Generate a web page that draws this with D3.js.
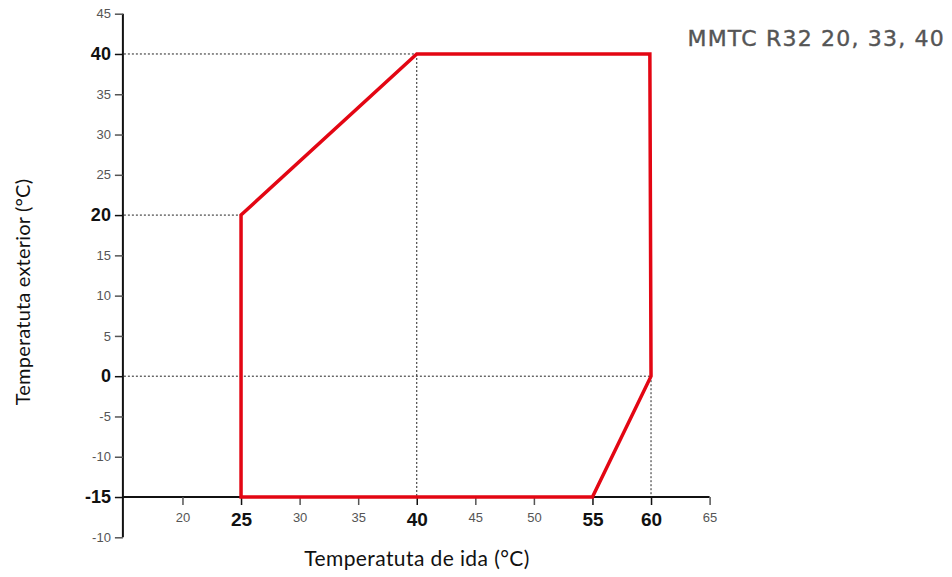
<!DOCTYPE html>
<html>
<head>
<meta charset="utf-8">
<script src="https://cdn.jsdelivr.net/npm/d3@7"></script>
<style>
  body { margin: 0; background: #fff; }
  svg { display: block; }
</style>
</head>
<body>
<div id="chart"></div>
<script>
"use strict";

// operating envelope: [flow temperature, outdoor temperature]
const envelope = [[25, -15], [25, 20], [40, 40], [59.9, 40], [60, 0], [55, -15]];

// dotted guide lines [x1, y1, x2, y2] in data units
const guides = [
    [15, 40, 40, 40],
    [15, 20, 25, 20],
    [15, 0, 60, 0],
    [40, 40, 40, -15],
    [60, 0, 60, -15]
];

const xTicks = [20, 25, 30, 35, 40, 45, 50, 55, 60, 65];
const xBold = [25, 40, 55, 60];
const yTicks = [45, 40, 35, 30, 25, 20, 15, 10, 5, 0, -5, -10, -15, -20];
const yTickLabels = ["45", "40", "35", "30", "25", "20", "15", "10", "5", "0", "-5", "-10", "-15", "-10"];
const yBold = [40, 20, 0, -15];

const title = "MMTC R32 20, 33, 40";
const xTitle = "Temperatuta de ida (°C)";
const yTitle = "Temperatuta exterior (°C)";

const width = 952;
const height = 577;

const xScale = d3.scaleLinear().domain([15, 65]).range([123.9, 709.6]);
const yScale = d3.scaleLinear().domain([45, -20]).range([13.7, 537.3]);

const svg = d3.select("#chart").append("svg")
              .attr("width", width)
              .attr("height", height);

// guides
svg.append("g")
   .selectAll("line")
   .data(guides)
   .join("line")
   .attr("x1", d => xScale(d[0]))
   .attr("y1", d => yScale(d[1]))
   .attr("x2", d => xScale(d[2]))
   .attr("y2", d => yScale(d[3]))
   .attr("stroke", "#222")
   .attr("stroke-width", 1)
   .attr("stroke-dasharray", "2,2");

// y axis
const yAxis = svg.append("g")
                 .attr("transform", `translate(${xScale(15) - 1}, 0)`)
                 .call(d3.axisLeft(yScale)
                         .tickValues(yTicks)
                         .tickSize(8)
                         .tickPadding(4)
                         .tickFormat((d, i) => yTickLabels[i]));
yAxis.select(".domain")
     .attr("d", `M0,${yScale(45)}V${yScale(-20)}`)
     .attr("stroke", "#111")
     .attr("stroke-width", 2);
yAxis.selectAll(".tick line")
     .attr("stroke", d => yBold.includes(d) ? "#111" : "#555")
     .attr("stroke-width", 1.5);
yAxis.selectAll(".tick text")
     .attr("font-family", "'Liberation Sans', Arial, sans-serif")
     .attr("font-size", d => yBold.includes(d) ? 18 : 13)
     .attr("font-weight", d => yBold.includes(d) ? "bold" : "normal")
     .attr("fill", d => yBold.includes(d) ? "#111" : "#555");

// x axis
const xAxis = svg.append("g")
                 .attr("transform", `translate(0, ${yScale(-15)})`)
                 .call(d3.axisBottom(xScale)
                         .tickValues(xTicks)
                         .tickSize(8)
                         .tickPadding(5));
xAxis.select(".domain")
     .attr("d", `M${xScale(15) - 1},0H${xScale(65)}`)
     .attr("stroke", "#111")
     .attr("stroke-width", 2);
xAxis.selectAll(".tick line")
     .attr("stroke", d => xBold.includes(d) ? "#111" : "#555")
     .attr("stroke-width", 1.5);
xAxis.selectAll(".tick text")
     .attr("font-family", "'Liberation Sans', Arial, sans-serif")
     .attr("font-size", d => xBold.includes(d) ? 19 : 13)
     .attr("font-weight", d => xBold.includes(d) ? "bold" : "normal")
     .attr("fill", d => xBold.includes(d) ? "#111" : "#555")
     .attr("dy", d => xBold.includes(d) ? "0.85em" : "0.9em");

// envelope
svg.append("path")
   .datum(envelope)
   .attr("d", d3.line().x(d => xScale(d[0])).y(d => yScale(d[1])).curve(d3.curveLinearClosed))
   .attr("fill", "none")
   .attr("stroke", "#e30613")
   .attr("stroke-width", 3.5)
   .attr("stroke-linejoin", "miter");

// titles
svg.append("text")
   .attr("x", 945)
   .attr("y", 46)
   .attr("text-anchor", "end")
   .attr("font-family", "'DejaVu Sans', sans-serif")
   .attr("font-size", 22)
   .attr("letter-spacing", 1.2)
   .attr("fill", "#555")
   .attr("stroke", "#555")
   .attr("stroke-width", 0.4)
   .text(title);

svg.append("text")
   .attr("x", 417)
   .attr("y", 566)
   .attr("text-anchor", "middle")
   .attr("font-family", "Lato, sans-serif")
   .attr("font-size", 21)
   .attr("letter-spacing", 0.4)
   .attr("fill", "#111")
   .text(xTitle);

svg.append("text")
   .attr("transform", `translate(30, 292) rotate(-90)`)
   .attr("text-anchor", "middle")
   .attr("font-family", "Lato, sans-serif")
   .attr("font-size", 20)
   .attr("letter-spacing", 0.2)
   .attr("fill", "#111")
   .text(yTitle);
</script>
</body>
</html>
